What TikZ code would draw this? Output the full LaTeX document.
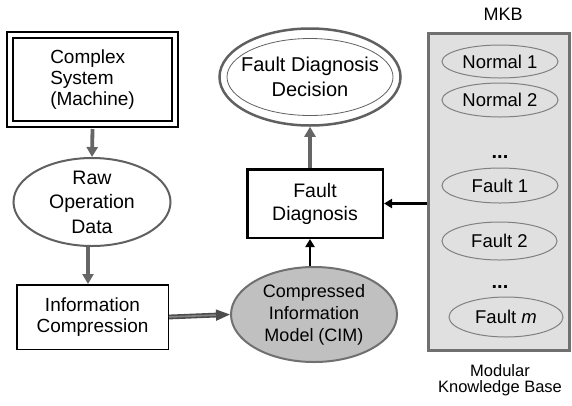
\documentclass[tikz,border=0pt]{standalone}
\usepackage{fontspec}
\setmainfont{Liberation Sans}
\usetikzlibrary{shapes.geometric,arrows.meta}
\definecolor{ellgray}{HTML}{606060}
\definecolor{arrgray}{HTML}{666666}
\definecolor{cimfill}{HTML}{C0C0C0}
\definecolor{panelfill}{HTML}{E0E0E0}
\definecolor{panelline}{HTML}{707070}
\definecolor{smallell}{HTML}{808080}
\tikzset{
  bigfont/.style={font=\fontsize{19}{21}\selectfont},
  ell/.style={ellipse, draw=ellgray, line width=2pt, inner sep=0pt},
  lbl/.style={align=center, inner sep=0pt, bigfont},
  box/.style={rectangle, draw=black, inner sep=0pt},
  grayarrow/.style={draw=arrgray, line width=3.8pt, -{Triangle[length=10pt,width=11pt]}},
  blackarrow/.style={draw=black, line width=2.8pt, -{Triangle[length=8pt,width=9pt]}},
  dblarrow/.style={draw=arrgray!75!black, double=arrgray!80, double distance=1.6pt, line width=1.6pt, -{Triangle[length=14pt,width=11pt,fill=arrgray!75!black]}},
  mkbell/.style={ellipse, draw=smallell, line width=1pt, fill=panelfill, inner sep=0pt, font=\fontsize{18.5}{20}\selectfont},
  dots/.style={font=\fontsize{20}{20}\selectfont\bfseries, inner sep=0pt},
  smalltxt/.style={font=\fontsize{16.5}{16.5}\selectfont, align=center, inner sep=0pt}
}
\begin{document}
\begin{tikzpicture}[x=1pt, y=-1pt]
\useasboundingbox (0,0) rectangle (572,405);
% Complex system (double framed box)
\node[box, double, double distance=4pt, line width=2pt, minimum width=165pt, minimum height=89pt,
      label={[lbl, align=left]center:Complex\\System\\(Machine)}] (sys) at (92.5,79.5) {};
% Raw operation data
\node[ell, minimum width=157pt, minimum height=88pt,
      label={[lbl, font=\fontsize{19.5}{24.5}\selectfont]center:Raw\\Operation\\Data}] (raw) at (92,202) {};
% Information compression
\node[box, line width=1.5pt, minimum width=151.5pt, minimum height=64.5pt,
      label={[lbl]center:Information\\Compression}] (info) at (92.5,317) {};
% CIM
\node[ell, fill=cimfill, draw=panelline, minimum width=166pt, minimum height=95pt,
      label={[lbl, font=\fontsize{18}{22}\selectfont]center:Compressed\\Information\\Model (CIM)}] (cim) at (314,314.5) {};
% Fault diagnosis
\node[box, line width=2.5pt, minimum width=135.5pt, minimum height=68.5pt,
      label={[lbl, font=\fontsize{19.5}{23}\selectfont]center:Fault\\Diagnosis}] (fd) at (315,203.5) {};
% Decision
\node[ell, line width=2.5pt, minimum width=181pt, minimum height=97pt,
      label={[lbl, font=\fontsize{20}{25}\selectfont]center:Fault Diagnosis\\Decision}] (dec) at (310,77) {};
\draw[draw=ellgray, line width=0.8pt] (dec.center) ellipse [x radius=83pt, y radius=38.5pt];
% MKB panel
\node[rectangle, draw=panelline, fill=panelfill, line width=3pt, minimum width=141pt, minimum height=317pt] (mkb) at (499,192) {};
\node[font=\fontsize{18}{18}\selectfont, inner sep=0pt] (mkbtitle) at (503,14) {MKB};
\node[smalltxt] (mkbname) at (500,380) {Modular\\Knowledge Base};
\node[mkbell, minimum width=116pt, minimum height=33pt] (n1) at (500,61.5) {Normal 1};
\node[mkbell, minimum width=116pt, minimum height=34pt] (n2) at (500,100) {Normal 2};
\node[dots] (d1) at (500,157) {...};
\node[mkbell, minimum width=116pt, minimum height=35pt] (f1) at (500,185.5) {Fault 1};
\node[mkbell, minimum width=115pt, minimum height=38pt] (f2) at (499.5,241) {Fault 2};
\node[dots] (d2) at (500,287) {...};
\node[mkbell, minimum width=114pt, minimum height=40pt] (fm) at (506,317) {Fault~\textit{m}};
% Connectors
\draw[grayarrow] (sys.south) ++(0,-4pt) -- (raw.north);
\draw[grayarrow] ([xshift=-4pt]raw.south) -- ([xshift=-4pt]raw.south |- info.north);
\draw[dblarrow] (info.east) -- (cim.west);
\draw[blackarrow] (cim.north -| dec.south) -- (fd.south -| dec.south);
\draw[blackarrow] (mkb.west |- fd.east) -- (fd.east);
\draw[grayarrow] (fd.north -| dec.south) -- (dec.south);
\end{tikzpicture}
\end{document}
